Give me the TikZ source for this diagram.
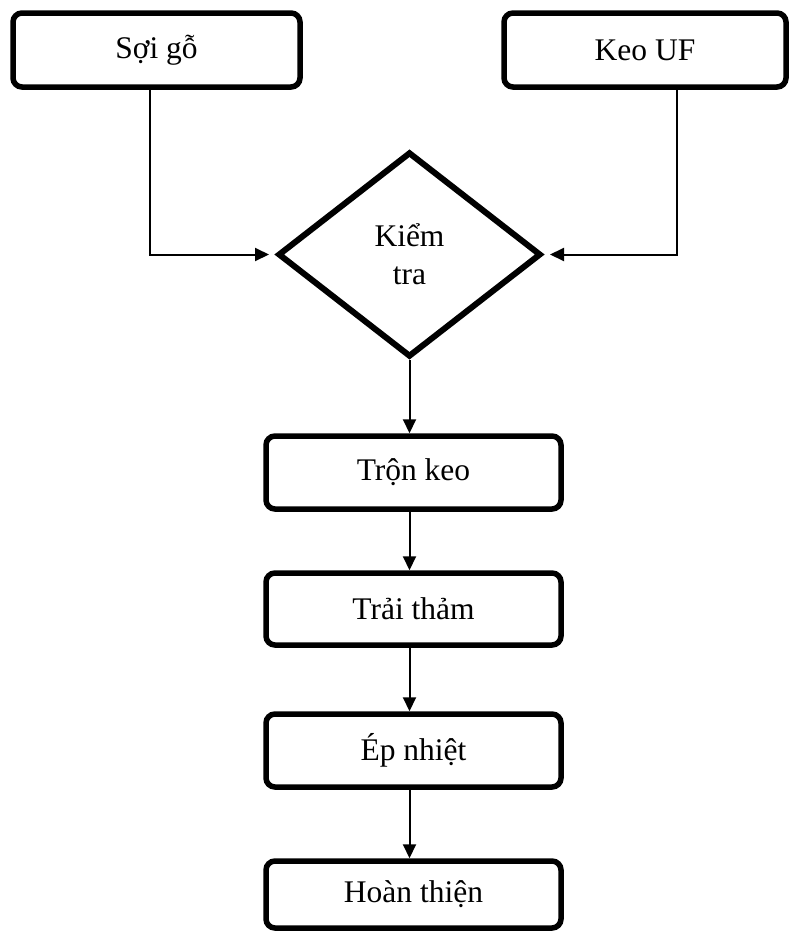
\documentclass[tikz,border=0pt]{standalone}
\usepackage{fontspec}
\setmainfont{Liberation Serif}
\usetikzlibrary{shapes.geometric,arrows.meta,calc}
\begin{document}
\begin{tikzpicture}[x=1pt,y=-1pt,
  box/.style={draw=black, line width=5.5pt, rounded corners=9pt, fill=white,
    inner sep=0pt, font=\fontsize{31.5}{38}\selectfont},
  dec/.style={draw=black, line width=6pt, diamond, inner sep=0pt, aspect=1.28,
    minimum width=263pt, minimum height=205pt, align=center,
    font=\fontsize{31.5}{38}\selectfont},
  arr/.style={line width=2pt, -{Triangle[length=14pt,width=13pt]}}]
\useasboundingbox (0,0) rectangle (790,932);
\node[box, minimum width=287pt, minimum height=74pt] (sg) at (156.5,50) {Sợi gỗ};
\node[box, minimum width=282pt, minimum height=74pt] (keo) at (645,50) {Keo UF};
\node[dec] (kt) at (409.5,254.5) {Kiểm\\tra};
\node[box, minimum width=295pt, minimum height=73pt] (tron) at (413.5,472.5) {Trộn keo};
\node[box, minimum width=295pt, minimum height=72pt] (trai) at (413.5,609) {Trải thảm};
\node[box, minimum width=295pt, minimum height=73pt] (ep) at (413.5,750.5) {Ép nhiệt};
\node[box, minimum width=295pt, minimum height=67pt] (ht) at (413.5,894.5) {Hoàn thiện};
\draw[arr, shorten >=6pt] ([xshift=-6.5pt]sg.south) |- (kt.west);
\draw[arr, shorten >=6pt] ([xshift=32pt]keo.south) |- (kt.east);
\draw[arr] (kt.south) -- (kt.south |- tron.north);
\draw[arr] (tron.south -| kt.south) -- (trai.north -| kt.south);
\draw[arr] (trai.south -| kt.south) -- (ep.north -| kt.south);
\draw[arr] (ep.south -| kt.south) -- (ht.north -| kt.south);
\end{tikzpicture}
\end{document}
